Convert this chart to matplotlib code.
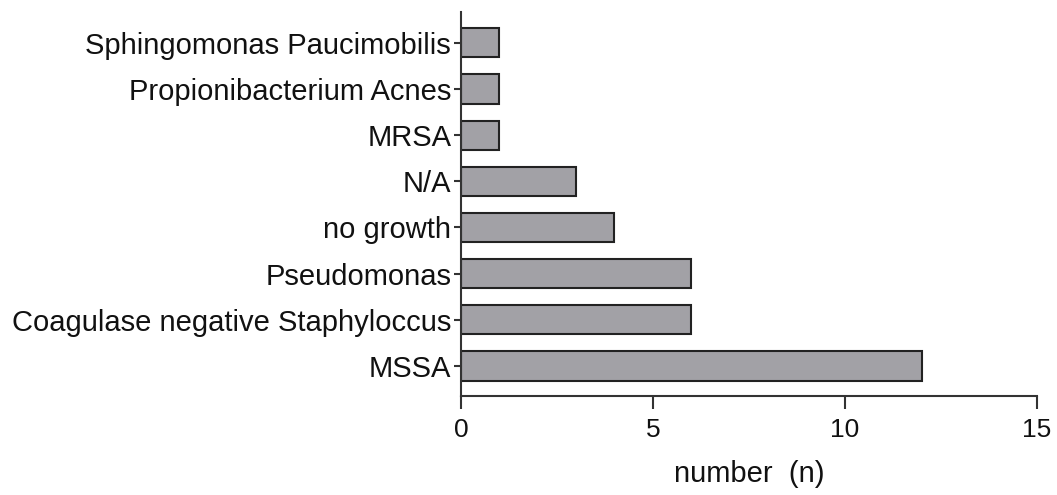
import numpy as np
import matplotlib.pyplot as plt

plt.rcParams['font.family'] = ['Liberation Sans', 'DejaVu Sans']

categories = ['MSSA', 'Coagulase negative Staphyloccus', 'Pseudomonas', 'no growth',
              'N/A', 'MRSA', 'Propionibacterium Acnes', 'Sphingomonas Paucimobilis']
counts = [12, 6, 6, 4, 3, 1, 1, 1]

fig = plt.figure(figsize=(10.57, 4.95), dpi=100)
ax = fig.add_axes([0.436, 0.2, 0.545, 0.776])

y = np.arange(len(categories))
ax.barh(y, counts, height=0.63, color='#a2a1a6', edgecolor='#222222', linewidth=1.5)

ax.set_xlim(0, 15)
ax.set_ylim(-0.65, len(categories) - 1 + 0.67)
ax.set_xticks([0, 5, 10, 15])
ax.set_yticks(y)
ax.set_yticklabels(categories)
ax.tick_params(axis='both', width=1.5, color='#333333', labelcolor='#111111')
ax.tick_params(axis='x', labelsize=19, length=9, pad=7)
ax.tick_params(axis='y', labelsize=21, length=5, pad=2)
ax.set_xlabel('number  (n)', fontsize=21, labelpad=13, color='#111111')

for side in ['top', 'right']:
    ax.spines[side].set_visible(False)
for side in ['left', 'bottom']:
    ax.spines[side].set_linewidth(1.5)
    ax.spines[side].set_color('#333333')

fig.savefig('out.png', dpi=100)
